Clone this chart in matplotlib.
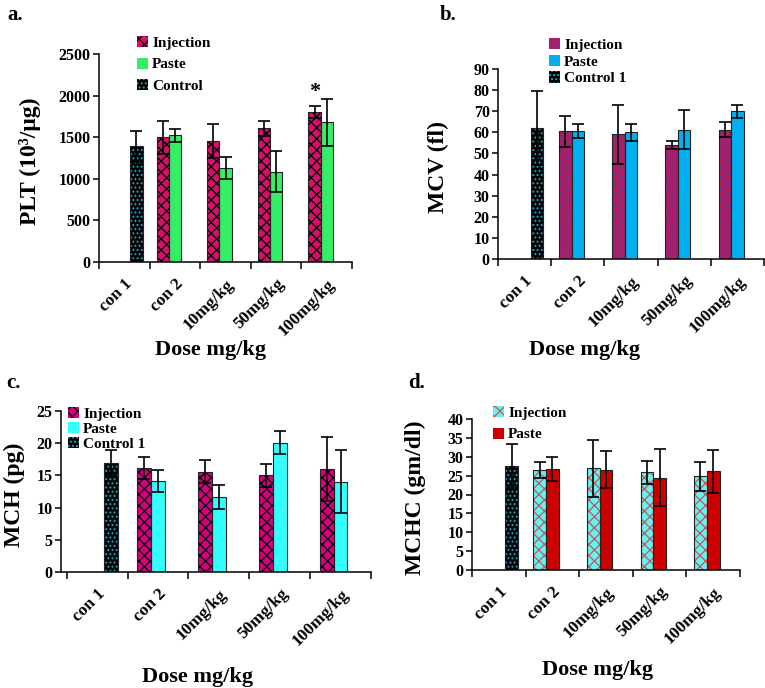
"""Four-panel haematology bar chart (PLT, MCV, MCH, MCHC)."""

import numpy as np
import matplotlib
matplotlib.use("Agg")
import matplotlib.pyplot as plt
import matplotlib.patches as mpatches

nan = np.nan

categories = ["con 1", "con 2", "10mg/kg", "50mg/kg", "100mg/kg"]

plt_inj = [nan, 1500, 1455, 1608, 1804]
plt_inj_err = [nan, 200, 200, 90, 76]
plt_paste = [nan, 1524, 1128, 1084, 1680]
plt_paste_err = [nan, 80, 135, 245, 280]
plt_ctrl = [1390, nan, nan, nan, nan]
plt_ctrl_err = [185, nan, nan, nan, nan]

mcv_inj = [nan, 60.4, 59.1, 54.1, 61.3]
mcv_inj_err = [nan, 7.5, 14.0, 2.0, 3.5]
mcv_paste = [nan, 60.7, 60.1, 61.3, 70.0]
mcv_paste_err = [nan, 3.3, 4.0, 9.3, 3.0]
mcv_ctrl = [62.2, nan, nan, nan, nan]
mcv_ctrl_err = [17.5, nan, nan, nan, nan]

mch_inj = [nan, 16.1, 15.6, 15.0, 16.0]
mch_inj_err = [nan, 1.7, 1.85, 1.8, 4.9]
mch_paste = [nan, 14.1, 11.6, 20.05, 14.05]
mch_paste_err = [nan, 1.7, 1.85, 1.8, 4.95]
mch_ctrl = [17.0, nan, nan, nan, nan]
mch_ctrl_err = [2.0, nan, nan, nan, nan]

mchc_inj = [nan, 26.5, 26.9, 25.9, 24.8]
mchc_inj_err = [nan, 2.2, 7.5, 3.1, 3.9]
mchc_paste = [nan, 26.75, 26.5, 24.5, 26.1]
mchc_paste_err = [nan, 3.1, 4.9, 7.6, 5.6]
mchc_ctrl = [27.5, nan, nan, nan, nan]
mchc_ctrl_err = [5.9, nan, nan, nan, nan]

plt.rcParams["font.family"] = ["Liberation Serif", "DejaVu Serif"]
plt.rcParams["font.weight"] = "bold"
plt.rcParams["hatch.linewidth"] = 0.9

FS_YTICK = 11.5
FS_XTICK = 12.5
FS_YLABEL = 17
FS_XLABEL = 16
FS_LEG = 11

W, H = 765, 688

CTRL = dict(face="#000000", hatch="....", hcolor="#1FA8C8")


def fx(px):
    return px / W


def fy(py):
    return 1 - py / H


def draw_bars(ax, x, vals, errs, st, width):
    # fill + hatch first, then a thin dark outline on top
    ax.bar(x, vals, width, color=st["face"], hatch=st.get("hatch"),
           edgecolor=st["hcolor"], linewidth=0, zorder=2)
    ax.bar(x, vals, width, fill=False, edgecolor="#222222",
           linewidth=0.8, zorder=3)
    ax.errorbar(x, vals, yerr=errs, fmt="none", ecolor="black",
                elinewidth=1.2, capsize=4, capthick=1.2, zorder=4)


def panel(box, series, ylim, yticks, ylabel, ylab_x, xleft=-0.5,
          width=0.235):
    l, r, t, b = box
    ax = fig.add_axes([fx(l), fy(b), fx(r - l), (b - t) / H])
    x = np.arange(len(categories))
    for k, (vals, errs, st) in enumerate(series):
        draw_bars(ax, x + (k - 1) * width, vals, errs, st, width)
    ax.set_xlim(xleft, len(categories) - 0.5)
    ax.set_ylim(*ylim)
    ax.set_yticks(yticks)
    ax.set_xticks(x)
    ax.set_xticklabels(categories, rotation=45, ha="right",
                       rotation_mode="anchor", fontsize=FS_XTICK)
    ax.set_xticks(np.arange(-0.5, len(categories)), minor=True)
    ax.tick_params(axis="x", which="major", length=0, pad=10)
    ax.tick_params(axis="x", which="minor", length=5, width=1.1,
                   direction="out")
    ax.tick_params(axis="y", length=4, width=1.1, direction="out",
                   labelsize=FS_YTICK, pad=2)
    for s in ("top", "right"):
        ax.spines[s].set_visible(False)
    for s in ("left", "bottom"):
        ax.spines[s].set_linewidth(1.1)
    fig.text(fx(ylab_x), fy((t + b) / 2 + 3), ylabel, rotation=90,
             ha="center", va="center", fontsize=FS_YLABEL,
             fontweight="bold")
    return ax


def legend(ax, handles, labels, x, y, spacing):
    ax.legend(handles, labels, loc="upper left",
              bbox_to_anchor=(fx(x), fy(y)), bbox_transform=fig.transFigure,
              frameon=False, fontsize=FS_LEG, handlelength=0.75,
              handleheight=0.75, handletextpad=0.25, labelspacing=spacing,
              borderpad=0, borderaxespad=0)


def handle(st):
    return mpatches.Patch(facecolor=st["face"], hatch=st.get("hatch"),
                          edgecolor=st["hcolor"], linewidth=0)


fig = plt.figure(figsize=(W / 100, H / 100), dpi=100)

# a. PLT
inj_a = dict(face="#D4106A", hatch="xxx", hcolor="#000000")
paste_a = dict(face="#33EE66", hatch=None, hcolor="#33EE66")
ax_a = panel((99, 352, 54, 262),
             [(plt_inj, plt_inj_err, inj_a),
              (plt_paste, plt_paste_err, paste_a),
              (plt_ctrl, plt_ctrl_err, CTRL)],
             (0, 2500), np.arange(0, 2501, 500), "PLT (10³/μg)", 30,
             width=0.24)
ax_a.text(4 - 0.24, 2040, "*", ha="center", va="center", fontsize=16)
legend(ax_a, [handle(inj_a), handle(paste_a), handle(CTRL)],
       ["Injection", "Paste", "Control"], 137, 36, 0.5)

# b. MCV
inj_b = dict(face="#B01C5E", hatch="xxx", hcolor="#7A3090")
paste_b = dict(face="#00B0F0", hatch=None, hcolor="#00B0F0")
ax_b = panel((498, 764, 69, 259),
             [(mcv_inj, mcv_inj_err, inj_b),
              (mcv_paste, mcv_paste_err, paste_b),
              (mcv_ctrl, mcv_ctrl_err, CTRL)],
             (0, 90), np.arange(0, 91, 10), "MCV (fl)", 438)
legend(ax_b, [handle(inj_b), handle(paste_b), handle(CTRL)],
       ["Injection", "Paste", "Control 1"], 549, 38, 0.18)

# c. MCH
inj_c = dict(face="#D4007F", hatch="xxx", hcolor="#000000")
paste_c = dict(face="#33FFFF", hatch=None, hcolor="#33FFFF")
ax_c = panel((61, 371, 411, 572),
             [(mch_inj, mch_inj_err, inj_c),
              (mch_paste, mch_paste_err, paste_c),
              (mch_ctrl, mch_ctrl_err, CTRL)],
             (0, 25), np.arange(0, 26, 5), "MCH (pg)", 14,
             xleft=-0.594, width=0.225)
legend(ax_c, [handle(inj_c), handle(paste_c), handle(CTRL)],
       ["Injection", "Paste", "Control 1"], 68, 407, 0.08)

# d. MCHC
inj_d = dict(face="#66F2F2", hatch="xxx", hcolor="#C05858")
paste_d = dict(face="#CC0000", hatch=None, hcolor="#CC0000")
ax_d = panel((472, 740, 419, 570),
             [(mchc_inj, mchc_inj_err, inj_d),
              (mchc_paste, mchc_paste_err, paste_d),
              (mchc_ctrl, mchc_ctrl_err, CTRL)],
             (0, 40), np.arange(0, 41, 5), "MCHC (gm/dl)", 415, width=0.237)
legend(ax_d, [handle(inj_d), handle(paste_d)],
       ["Injection", "Paste"], 493, 406, 0.5)

# x-axis titles and panel letters
for x, y in [(211, 350), (585, 350), (198, 677), (598, 670)]:
    fig.text(fx(x), fy(y), "Dose mg/kg", ha="center", va="center",
             fontsize=FS_XLABEL, fontweight="bold")
for letter, x, y in [("a.", 7, 15), ("b.", 440, 15), ("c.", 6, 383),
                     ("d.", 408, 383)]:
    fig.text(fx(x), fy(y), letter, ha="left", va="center", fontsize=15,
             fontweight="bold")

fig.savefig("out.png", dpi=100)
